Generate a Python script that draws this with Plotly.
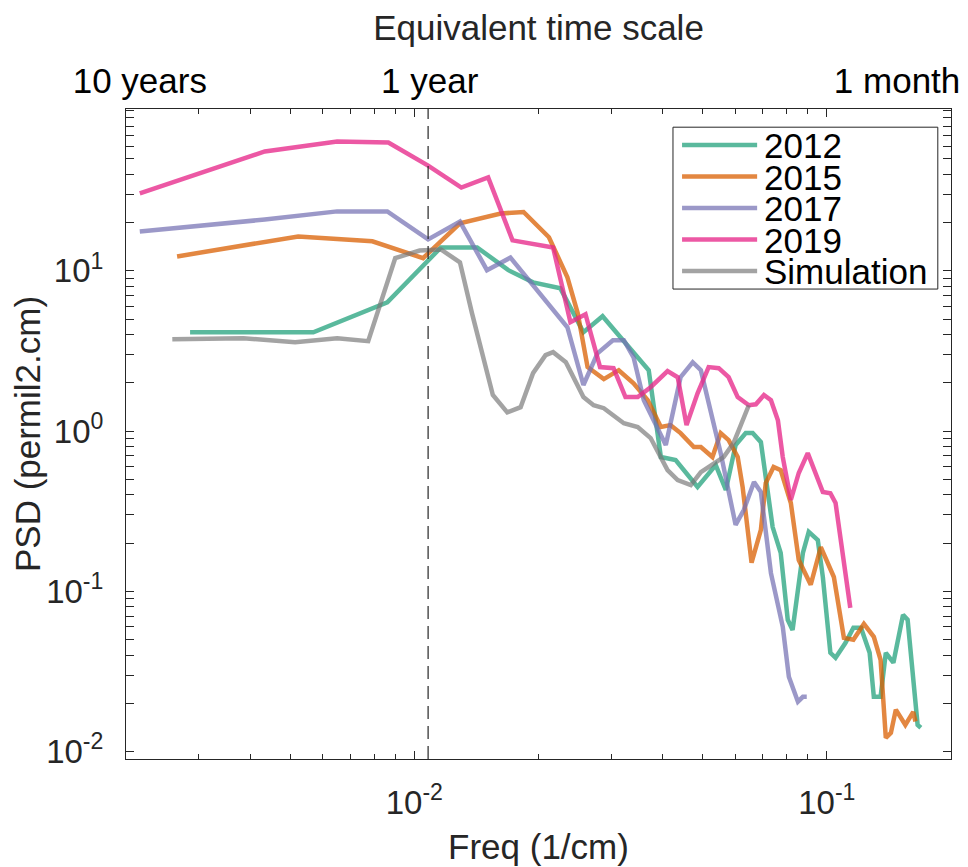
import math
import plotly.graph_objects as go

# ---------------- data ----------------
freq_2012 = [0.00286, 0.00569, 0.0086, 0.0108, 0.0116, 0.0142, 0.0169, 0.0194, 0.0226, 0.0257,
             0.0286, 0.0316, 0.034, 0.037, 0.0396, 0.043, 0.0486, 0.0538, 0.0569, 0.0601,
             0.0636, 0.0661, 0.0692, 0.0739, 0.0773, 0.0804, 0.0826, 0.0875, 0.0904, 0.0951,
             0.0978, 0.102, 0.105, 0.111, 0.116, 0.121, 0.127, 0.130, 0.135, 0.139,
             0.145, 0.153, 0.157, 0.163, 0.166, 0.169]
psd_2012 = [4.14, 4.14, 6.36, 11.8, 14.0, 14.0, 10.1, 8.48, 7.78, 4.14,
            5.21, 3.85, 3.06, 2.40, 0.689, 0.660, 0.448, 0.614, 0.429, 0.818,
            0.972, 0.972, 0.854, 0.252, 0.174, 0.0665, 0.0575, 0.174, 0.235, 0.209,
            0.123, 0.0414, 0.0385, 0.0478, 0.0593, 0.0593, 0.0414, 0.0220, 0.0220, 0.0414,
            0.0359, 0.0714, 0.0665, 0.0254, 0.0147, 0.0141]

freq_2015 = [0.00266, 0.00434, 0.00523, 0.00791, 0.0105, 0.0129, 0.0162, 0.0184, 0.0212, 0.0235,
             0.0249, 0.0263, 0.0288, 0.0313, 0.034, 0.0368, 0.0396, 0.0418, 0.0442, 0.0476,
             0.0495, 0.0528, 0.0553, 0.0578, 0.0608, 0.0625, 0.0657, 0.0692, 0.0711, 0.0743,
             0.0773, 0.0818, 0.0855, 0.0914, 0.0967, 0.104, 0.110, 0.116, 0.123, 0.130,
             0.135, 0.139, 0.143, 0.147, 0.155, 0.162, 0.164]
psd_2015 = [12.3, 15.1, 16.4, 15.3, 12.0, 19.8, 22.8, 23.3, 16.2, 9.11,
            5.43, 2.51, 2.11, 2.40, 1.99, 1.56, 1.06, 1.09, 0.972, 0.795,
            0.795, 0.689, 0.972, 0.879, 0.689, 0.448, 0.151, 0.242, 0.474, 0.597,
            0.571, 0.356, 0.157, 0.110, 0.189, 0.123, 0.0513, 0.0499, 0.0628, 0.0521,
            0.0374, 0.0122, 0.0131, 0.0183, 0.0147, 0.0177, 0.0154]

freq_2017 = [0.00216, 0.00434, 0.0065, 0.0086, 0.0108, 0.0129, 0.0150, 0.0171, 0.0235, 0.0257,
             0.0278, 0.0303, 0.0322, 0.034, 0.036, 0.0407, 0.0442, 0.0473, 0.0495, 0.0517,
             0.0553, 0.0601, 0.0629, 0.0666, 0.0692, 0.0732, 0.0782, 0.0809, 0.0851, 0.0875,
             0.0894]
psd_2017 = [17.6, 20.9, 23.5, 23.5, 15.7, 20.3, 10.1, 12.1, 4.45, 1.94,
            3.06, 3.69, 3.69, 2.89, 1.56, 0.818, 2.17, 2.69, 2.40, 1.49,
            0.729, 0.260, 0.322, 0.481, 0.417, 0.130, 0.0601, 0.0293, 0.0205, 0.0220,
            0.0220]

freq_2019 = [0.00216, 0.00434, 0.0065, 0.00865, 0.0108, 0.0130, 0.0151, 0.0173, 0.0217, 0.0239,
             0.0260, 0.0282, 0.0304, 0.0325, 0.0348, 0.0374, 0.0411, 0.0435, 0.0457, 0.0486,
             0.0517, 0.0547, 0.0578, 0.0608, 0.0647, 0.0673, 0.0704, 0.0732, 0.0761, 0.0782,
             0.0818, 0.0855, 0.0899, 0.0978, 0.102, 0.105, 0.114]
psd_2019 = [30.4, 55.6, 64.1, 63.2, 45.4, 33.1, 38.3, 15.5, 14.0, 4.78,
            5.36, 2.51, 2.47, 1.63, 1.63, 1.88, 2.37, 2.17, 1.09, 1.72,
            2.51, 2.47, 2.17, 1.63, 1.45, 1.47, 1.68, 1.56, 1.17, 0.689,
            0.372, 0.548, 0.729, 0.417, 0.410, 0.356, 0.0789]

freq_sim = [0.00259, 0.00385, 0.00514, 0.0065, 0.00773, 0.00899, 0.0103, 0.0116, 0.0129, 0.0138,
            0.0155, 0.0168, 0.0181, 0.0194, 0.0208, 0.0217, 0.0233, 0.0257, 0.0272, 0.0288,
            0.0322, 0.0348, 0.0374, 0.0411, 0.0435, 0.0468, 0.0495, 0.0532, 0.0562, 0.0594,
            0.0629, 0.0647]
psd_sim = [3.74, 3.80, 3.59, 3.80, 3.64, 12.0, 13.4, 13.6, 11.3, 5.43,
           1.68, 1.31, 1.41, 2.30, 2.98, 3.11, 2.69, 1.63, 1.45, 1.39,
           1.12, 1.06, 0.905, 0.571, 0.495, 0.461, 0.555, 0.632, 0.689, 0.842,
           1.21, 1.45]

series_names = ["2012", "2015", "2017", "2019", "Simulation"]
series_freqs = [freq_2012, freq_2015, freq_2017, freq_2019, freq_sim]
series_psds = [psd_2012, psd_2015, psd_2017, psd_2019, psd_sim]
series_colors = ["rgba(27,158,119,0.72)", "rgba(217,95,2,0.75)", "rgba(117,112,179,0.72)",
                 "rgba(231,41,138,0.78)", "rgba(120,120,120,0.68)"]

one_year_freq = 0.0108  # dashed marker

x_range_vals = [0.002, 0.2]
y_range_vals = [0.009, 102.3]

bottom_tickvals = [0.01, 0.1]
bottom_ticktext = ["10<sup>-2</sup>", "10<sup>-1</sup>"]
left_tickvals = [0.01, 0.1, 1, 10]
left_ticktext = ["10<sup>-2</sup>", "10<sup>-1</sup>", "10<sup>0</sup>", "10<sup>1</sup>"]
top_tickvals = [0.00216, 0.0109, 0.148]
top_ticktext = ["10 years", "1 year", "1 month"]

# ---------------- figure ----------------
FONT = "Liberation Sans, Arial, Helvetica, sans-serif"
AX = "#262626"

fig = go.Figure()
for name, fx, py, col in zip(series_names, series_freqs, series_psds, series_colors):
    fig.add_trace(go.Scatter(x=fx, y=py, mode="lines", name=name,
                             line=dict(color=col, width=4.5), showlegend=False))

fig.add_trace(go.Scatter(x=[one_year_freq, one_year_freq], y=y_range_vals, mode="lines",
                         xaxis="x2", line=dict(color=AX, width=1.2, dash="13px,7px"),
                         showlegend=False, hoverinfo="skip"))

xr = [math.log10(v) for v in x_range_vals]
yr = [math.log10(v) for v in y_range_vals]

fig.update_layout(
    width=960, height=859,
    margin=dict(l=118, r=17, t=101, b=108),
    paper_bgcolor="white", plot_bgcolor="white",
    font=dict(family=FONT, color=AX),
    xaxis=dict(type="log", range=xr, tickmode="array", tickvals=bottom_tickvals,
               ticktext=bottom_ticktext, ticks="inside", ticklen=8, tickwidth=1, tickcolor=AX,
               minor=dict(ticks="inside", ticklen=5, dtick="D1", tickcolor=AX, showgrid=False),
               showline=True, linecolor=AX, linewidth=1, mirror="allticks",
               showgrid=False, zeroline=False, automargin=False,
               tickfont=dict(size=33, color=AX, family=FONT), ticklabelstandoff=14,
               title=dict(text="Freq (1/cm)", font=dict(size=35, color=AX, family=FONT), standoff=14)),
    yaxis=dict(type="log", range=yr, tickmode="array", tickvals=left_tickvals,
               ticktext=left_ticktext, ticks="inside", ticklen=8, tickwidth=1, tickcolor=AX,
               minor=dict(ticks="inside", ticklen=5, dtick="D1", tickcolor=AX, showgrid=False),
               showline=True, linecolor=AX, linewidth=1, mirror="allticks",
               showgrid=False, zeroline=False, automargin=False,
               tickfont=dict(size=33, color=AX, family=FONT), ticklabelstandoff=15,
               title=dict(text="PSD (permil2.cm)", font=dict(size=35, color=AX, family=FONT), standoff=0)),
    xaxis2=dict(type="log", range=xr, overlaying="x", side="top", anchor="y",
                tickmode="array", tickvals=top_tickvals, ticktext=top_ticktext,
                ticks="", showline=False, showgrid=False, zeroline=False, automargin=False,
                tickfont=dict(size=35, color="black", family=FONT), ticklabelstandoff=8,
                title=dict(text="Equivalent time scale", font=dict(size=35, color=AX, family=FONT),
                           standoff=12)),
)

# ---------------- legend box (MATLAB style) ----------------
lx0, lx1, ly0, ly1 = 0.663, 0.984, 0.723, 0.972
fig.add_shape(type="rect", xref="paper", yref="paper", x0=lx0, x1=lx1, y0=ly0, y1=ly1,
              line=dict(color=AX, width=1), fillcolor="white", layer="above")
row_top, row_step = 0.9446, 0.0485
for i, (name, col) in enumerate(zip(series_names, series_colors)):
    yy = row_top - i * row_step
    fig.add_shape(type="line", xref="paper", yref="paper", x0=0.674, x1=0.765, y0=yy, y1=yy,
                  line=dict(color=col, width=4.5), layer="above")
    fig.add_annotation(xref="paper", yref="paper", x=0.771, y=yy, text=name, showarrow=False,
                       xanchor="left", yanchor="middle", height=30, valign="middle",
                       font=dict(size=35, color="black", family=FONT))

fig.write_html("out.html")
